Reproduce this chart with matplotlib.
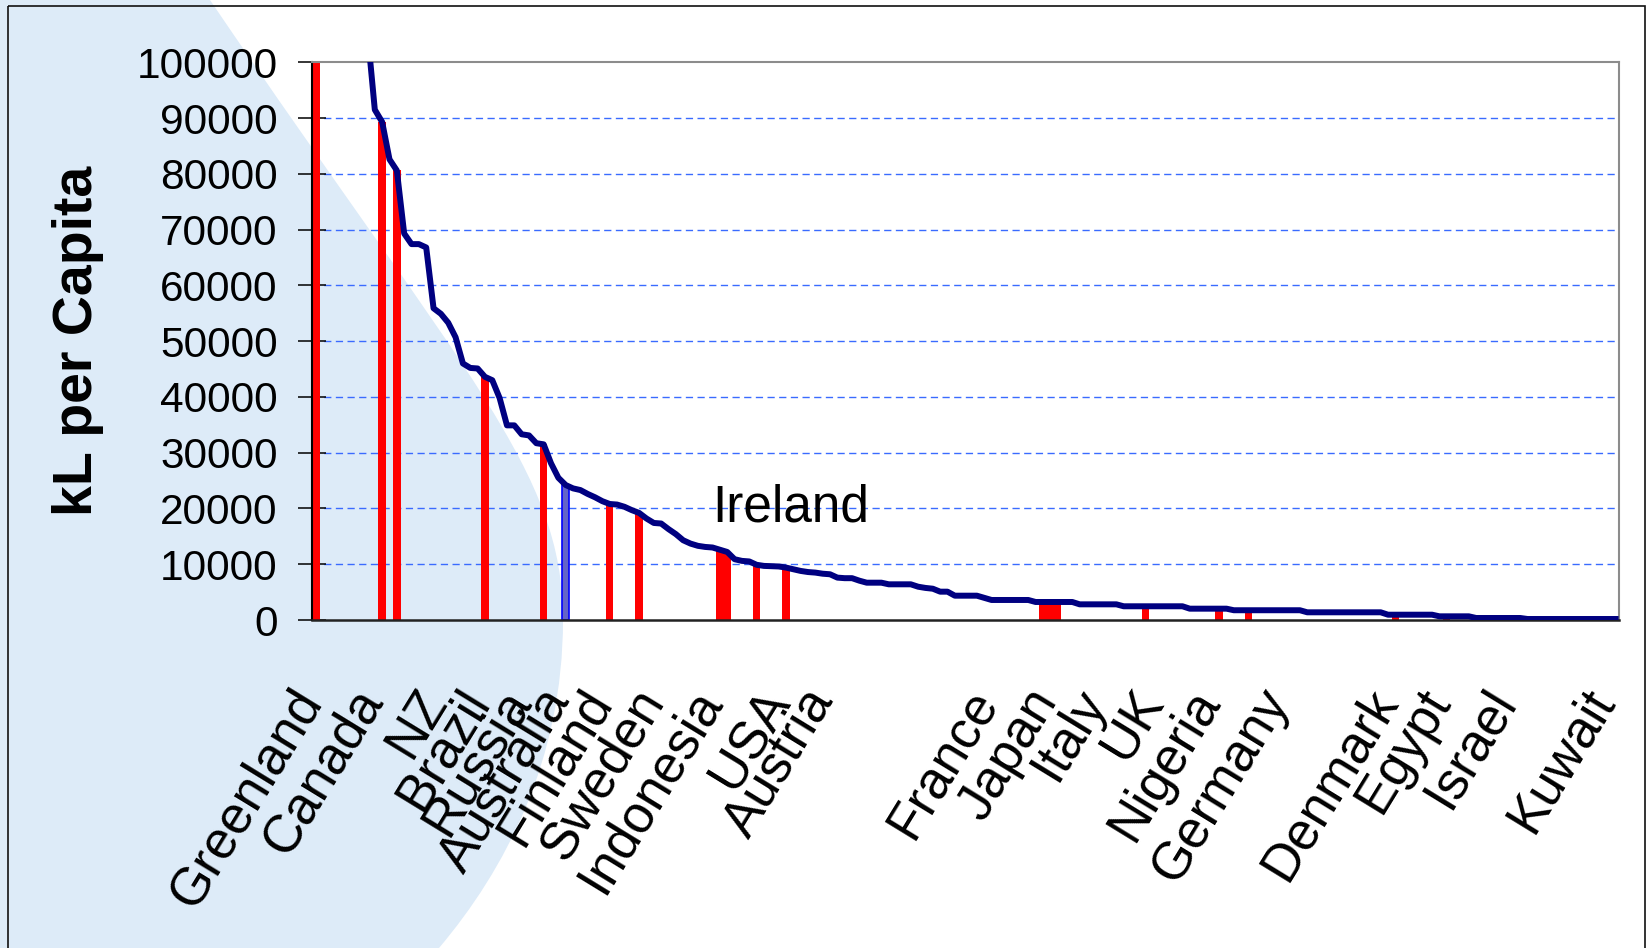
import matplotlib
matplotlib.use("Agg")
import matplotlib.pyplot as plt
import numpy as np
from matplotlib.patches import PathPatch, Rectangle
from matplotlib.path import Path

plt.rcParams['font.family'] = ['Liberation Sans', 'DejaVu Sans']

# ---- data: kL per capita for every country, ranked (descending) ----
values = [
    10500000, 609000, 600000, 316000, 292000, 275000, 166000, 105500, 91500, 89300,
    82600, 80600, 69300, 67400, 67400, 66800, 55900, 54900, 53300, 50700,
    46000, 45200, 45100, 43600, 43000, 39800, 34900, 34900, 33300, 33100,
    31700, 31500, 28100, 25500, 24200, 23600, 23300, 22600, 22000, 21300,
    20800, 20700, 20300, 19700, 19200, 18200, 17400, 17300, 16300, 15400,
    14300, 13700, 13300, 13100, 13000, 12600, 12200, 10900, 10600, 10500,
    9900, 9700, 9650, 9600, 9400, 9100, 8800, 8600, 8500, 8300,
    8200, 7600, 7500, 7500, 7050, 6690, 6690, 6690, 6400, 6400,
    6400, 6400, 5970, 5750, 5610, 5080, 5080, 4360, 4360, 4360,
    4360, 3980, 3590, 3590, 3590, 3590, 3590, 3590, 3230, 3230,
    3230, 3230, 3230, 3230, 2810, 2810, 2810, 2810, 2810, 2810,
    2460, 2460, 2460, 2460, 2460, 2460, 2460, 2460, 2460, 2030,
    2030, 2030, 2030, 2030, 2030, 1750, 1750, 1750, 1750, 1750,
    1750, 1750, 1750, 1750, 1750, 1380, 1380, 1380, 1380, 1380,
    1380, 1380, 1380, 1380, 1380, 1380, 950, 950, 950, 950,
    950, 950, 950, 660, 660, 660, 660, 660, 360, 360,
    360, 360, 360, 360, 360, 180, 180, 180, 180, 180,
    180, 180, 180, 180, 180, 180, 180, 180,
]

# ranks of the highlighted countries (red columns); Australia shown in blue
red_ranks = [0, 9, 11, 23, 31, 40, 44, 55, 56, 60, 64, 99, 100, 101, 113, 123, 127, 147, 154, 162, 175]
blue_ranks = [34]

label_names = ['Greenland', 'Canada', 'NZ', 'Brazil', 'Russia', 'Australia', 'Finland',
               'Sweden', 'Indonesia', 'USA', 'Austria', 'France', 'Japan', 'Italy', 'UK',
               'Nigeria', 'Germany', 'Denmark', 'Egypt', 'Israel', 'Kuwait']
label_ranks = [-3.7, 4.7, 13.4, 19.2, 24.8, 30.2, 35.8, 43.0, 50.8, 60.2, 66.0,
               88.4, 96.5, 103.1, 110.9, 118.6, 128.0, 142.8, 150.0, 158.9, 172.3]

yticks = [0, 10000, 20000, 30000, 40000, 50000, 60000, 70000, 80000, 90000, 100000]
ylabel = 'kL per Capita'
note = 'Ireland'

# ---- figure ----
W, H = 1647, 948
fig = plt.figure(figsize=(W / 100, H / 100), dpi=100)
fig.patch.set_facecolor('white')

# background decoration (light blue disc on the left) and outer frame
bg = fig.add_axes([0, 0, 1, 1], zorder=0)
bg.set_xlim(0, W)
bg.set_ylim(H, 0)
bg.axis('off')
verts = [(-5, -5), (210, -5), (210, 0),
         (468, 380), (563, 470), (563, 620),
         (563, 760), (505, 870), (439, 948),
         (439, 960), (-5, 960), (-5, -5)]
codes = [Path.MOVETO, Path.LINETO, Path.LINETO,
         Path.CURVE4, Path.CURVE4, Path.CURVE4,
         Path.CURVE4, Path.CURVE4, Path.CURVE4,
         Path.LINETO, Path.LINETO, Path.CLOSEPOLY]
bg.add_patch(PathPatch(Path(verts, codes), facecolor='#DDEBF8', edgecolor='none'))
bg.add_patch(Rectangle((7.5, 5.5), 1637.5, 1000, fill=False, edgecolor='#111111', linewidth=1.2))

# main plot
x0, x1, ytop, ybot = 312.4, 1619.3, 62.3, 620.0
ax = fig.add_axes([x0 / W, (H - ybot) / H, (x1 - x0) / W, (ybot - ytop) / H], zorder=1)
ax.set_facecolor('none')

n = len(values)
xs = np.arange(n)
vals = np.array(values, dtype=float)

for v in yticks[1:-1]:
    ax.axhline(v, color='#3A6BFF', linewidth=1.0, linestyle=(0, (5.2, 3.2)), zorder=1)

ax.bar(red_ranks, vals[red_ranks], width=1.0, color='#FF0000', linewidth=0, zorder=2)
ax.bar(blue_ranks, vals[blue_ranks], width=1.0, color='#6464C8', edgecolor='#0000FF',
       linewidth=1.2, zorder=2)
ax.plot(xs, vals, color='#000080', linewidth=4.3, solid_joinstyle='round', zorder=3)

ax.set_xlim(-0.5, n - 0.5)
ax.set_ylim(0, 100000)
ax.set_xticks([])
ax.set_yticks(yticks)
ax.set_yticklabels([str(t) for t in yticks], fontsize=30.5)
ax.tick_params(axis='y', direction='inout', length=20, width=1.1, color='black', pad=15)

for s in ['top', 'right']:
    ax.spines[s].set_color('#8C8C8C')
    ax.spines[s].set_linewidth(1.5)
ax.spines['left'].set_color('black')
ax.spines['left'].set_linewidth(1.5)
ax.spines['bottom'].set_color('#222222')
ax.spines['bottom'].set_linewidth(1.8)

trans = ax.get_xaxis_transform()
yoff = -60 / (ybot - ytop)
for name, r in zip(label_names, label_ranks):
    ax.text(r, yoff, name, transform=trans, fontsize=38, rotation=58.5,
            rotation_mode='anchor', ha='right', va='top', clip_on=False)

ax.text(54.0, 17600, note, fontsize=37, ha='left', va='baseline', zorder=4)

fig.text(78 / W, 1 - 341 / H, ylabel, rotation=90, fontsize=40, fontweight='bold',
         ha='center', va='center')

fig.savefig('out.png', dpi=100)
